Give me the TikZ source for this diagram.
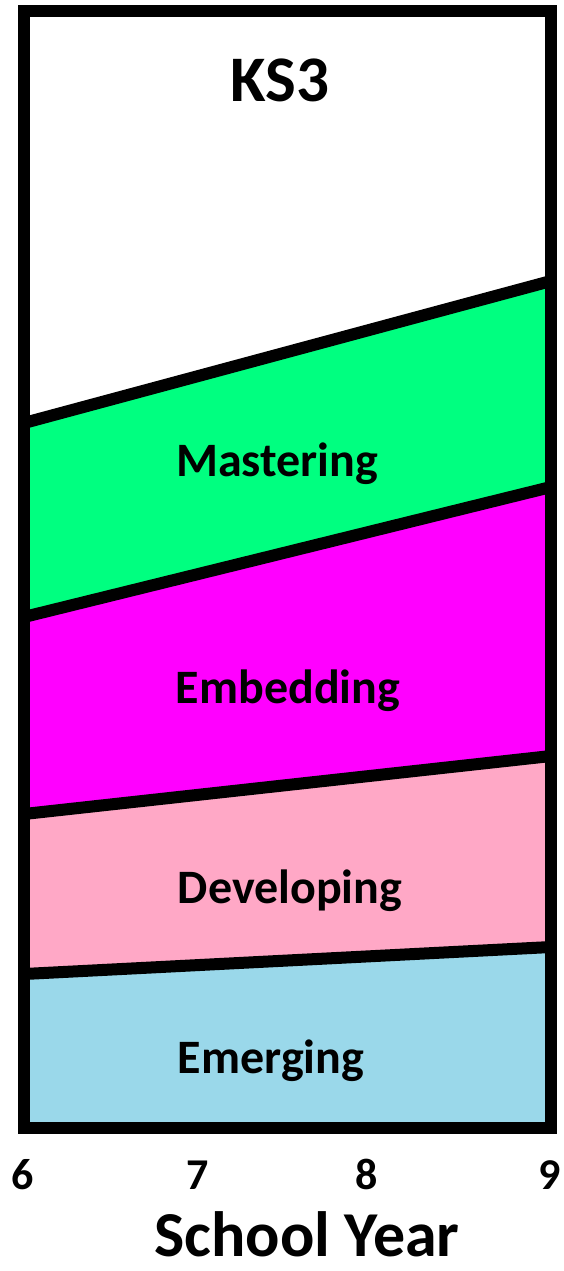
\documentclass[tikz,border=0pt]{standalone}
\usepackage{fontspec}
\setmainfont{Carlito}
\definecolor{mgreen}{RGB}{0,255,128}
\definecolor{mmag}{RGB}{255,0,255}
\definecolor{mpink}{RGB}{255,168,198}
\definecolor{mblue}{RGB}{154,216,234}
\tikzset{
  band/.style={line width=12pt, line join=miter},
  lbl/.style={font=\bfseries\fontsize{48}{52}\selectfont, anchor=base, inner sep=0pt},
  tick/.style={font=\bfseries\fontsize{44}{48}\selectfont, anchor=base, inner sep=0pt}
}
\begin{document}
\begin{tikzpicture}[x=1pt,y=-1pt]
\useasboundingbox (0,0) rectangle (564,1271);
% corners
\coordinate (TL) at (24,11);
\coordinate (TR) at (551,11);
\coordinate (BL) at (24,1128);
\coordinate (BR) at (551,1128);
% boundary ends
\coordinate (a1) at (24,423); \coordinate (a2) at (551,281);
\coordinate (b1) at (24,617); \coordinate (b2) at (551,487);
\coordinate (c1) at (24,814); \coordinate (c2) at (551,756);
\coordinate (d1) at (24,974); \coordinate (d2) at (551,947);
% fills
\fill[white] (TL) -- (TR) -- (a2) -- (a1) -- cycle;
\fill[mgreen] (a1) -- (a2) -- (b2) -- (b1) -- cycle;
\fill[mmag] (b1) -- (b2) -- (c2) -- (c1) -- cycle;
\fill[mpink] (c1) -- (c2) -- (d2) -- (d1) -- cycle;
\fill[mblue] (d1) -- (d2) -- (BR) -- (BL) -- cycle;
% boundaries
\draw[band] (a1) -- (a2);
\draw[band] (b1) -- (b2);
\draw[band] (c1) -- (c2);
\draw[band] (d1) -- (d2);
\draw[band] (TL) -- (TR) -- (BR) -- (BL) -- cycle;
% labels
\node[lbl, font=\bfseries\fontsize{65}{70}\selectfont] (ks3) at (280,102) {KS3};
\node[lbl] (mast) at (277,476) {Mastering};
\node[lbl] (embd) at (288,703) {Embedding};
\node[lbl] (devl) at (290,903) {Developing};
\node[lbl] (emrg) at (271,1073) {Emerging};
\node[tick] (t6) at (23,1189) {6};
\node[tick] (t7) at (198,1189) {7};
\node[tick] (t8) at (367,1189) {8};
\node[tick] (t9) at (550,1189) {9};
\node[lbl, font=\bfseries\fontsize{64}{68}\selectfont] (sy) at (307,1256) {School Year};
\end{tikzpicture}
\end{document}
